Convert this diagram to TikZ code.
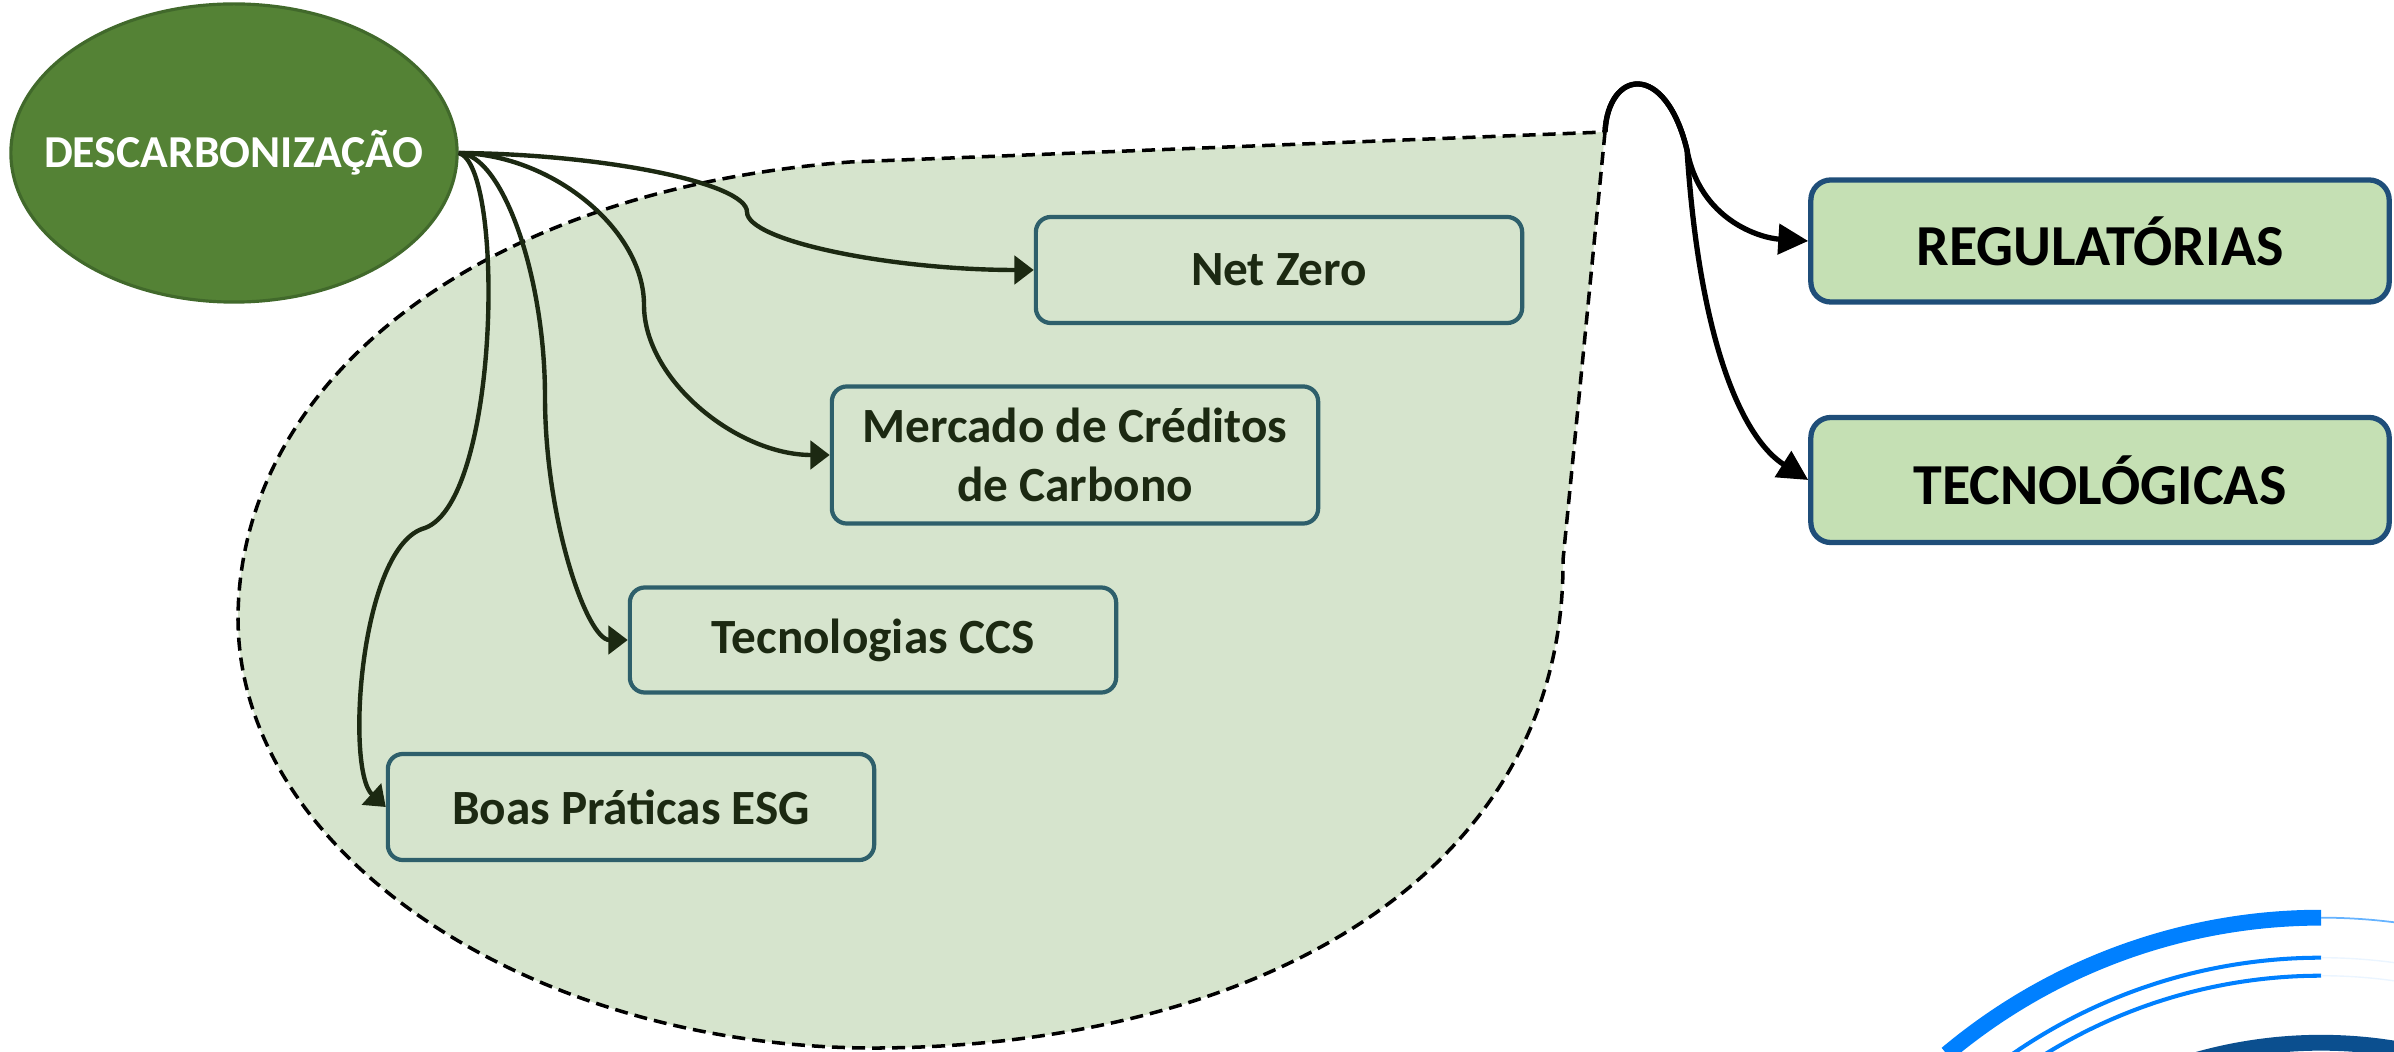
\documentclass[tikz,border=0pt]{standalone}
\usepackage{fontspec}
\setmainfont{Carlito}
\usepackage{tikz}
\usepackage{xcolor}
\usetikzlibrary{arrows.meta,shapes.geometric}

\definecolor{leafgreen}{HTML}{548235}
\definecolor{leafedge}{HTML}{41692B}
\definecolor{palegreen}{HTML}{D6E4CD}
\definecolor{tealedge}{HTML}{2E5F6B}
\definecolor{inktext}{HTML}{1C2912}
\definecolor{mintfill}{HTML}{C5E0B4}
\definecolor{navyedge}{HTML}{1F4E79}
\definecolor{ringblue}{HTML}{0080FF}
\definecolor{ringnavy}{HTML}{0B4F8F}

\begin{document}
\begin{tikzpicture}[x=0.01cm, y=0.01cm,
  topic/.style={draw=tealedge, line width=1.2pt, fill=palegreen, rounded corners=0.15cm,
    text=inktext, font=\fontsize{14}{17}\selectfont\bfseries, align=center,
    minimum width=4.86cm, minimum height=1.05cm, inner sep=0pt},
  kind/.style={draw=navyedge, line width=1.5pt, fill=mintfill, rounded corners=0.2cm,
    font=\fontsize{16.5}{20}\selectfont\bfseries,
    minimum width=5.78cm, minimum height=1.22cm, inner sep=0pt},
  link/.style={inktext, line width=1.25pt, -{Triangle[length=5.5pt,width=8pt]}},
  biglink/.style={black, line width=1.5pt, -{Triangle[length=8.5pt,width=8.5pt]}}]

  \useasboundingbox (0,0) rectangle (2394,-1052);

  % dashed region
  \draw[fill=palegreen, line width=1pt, dash pattern=on 3.7pt off 2pt]
    (1605,-132) -- (1563,-560)
    .. controls (1565,-880) and (1250,-1045) .. (880,-1048)
    .. controls (540,-1050) and (240,-860) .. (238,-620)
    .. controls (238,-380) and (480,-190) .. (850,-162) -- cycle;
  \coordinate (tip) at (1605,-132);

  % main topic
  \node[ellipse, draw=leafedge, line width=0.9pt, fill=leafgreen, text=white,
    font=\fontsize{13}{16}\selectfont\bfseries, minimum width=4.46cm,
    minimum height=2.98cm, inner ysep=0pt, inner xsep=-0.36cm] (desc) at (234,-153) {DESCARBONIZAÇÃO};

  % topics
  \node[topic, minimum height=1.06cm] (netzero) at (1279,-270) {Net Zero};
  \node[topic, minimum height=1.37cm] (mercado) at (1075,-455) {Mercado de Créditos\\de Carbono};
  \node[topic] (ccs) at (873,-640) {Tecnologias CCS};
  \node[topic, minimum height=1.06cm] (esg) at (631,-807) {Boas Práticas ESG};

  % kinds
  \node[kind] (reg) at (2100,-241) {REGULATÓRIAS};
  \node[kind, minimum height=1.25cm] (tec) at (2100,-480) {TECNOLÓGICAS};

  % links from the main topic
  \draw[link] (desc.east) .. controls (603,-154) and (747,-183) .. (747,-212)
    .. controls (747,-241) and (891,-270) .. (netzero.west);
  \draw[link] (desc.east) .. controls (551,-154) and (644,-229) .. (644,-305)
    .. controls (644,-380) and (737,-455) .. (mercado.west);
  \draw[link] (desc.east) .. controls (502,-154) and (545,-275) .. (545,-397)
    .. controls (545,-519) and (587,-640) .. (ccs.west);
  \draw[link] (desc.east) .. controls (505,-165) and (500,-500) .. (425,-528)
    .. controls (360,-545) and (345,-770) .. (esg.west);

  % links from the region
  \draw[biglink] (tip) .. controls (1608,-70) and (1665,-60) .. (1687,-150)
    .. controls (1700,-220) and (1760,-238) .. (reg.west);
  \draw[biglink] (tip) .. controls (1608,-70) and (1665,-60) .. (1687,-150)
    .. controls (1700,-350) and (1745,-440) .. (tec.west);

  % rings
  \begin{scope}
    \clip (0,0) rectangle (2394,-1052);
    \draw[ringblue, line width=4.5pt] (2321,-1500) ++(130:5.82cm)
      arc[start angle=130, end angle=90, radius=5.82cm];
    \draw[ringblue, line width=1.15pt] (2321,-1500) ++(130:5.42cm)
      arc[start angle=130, end angle=90, radius=5.42cm];
    \draw[ringblue, line width=1.15pt] (2321,-1500) ++(130:5.24cm)
      arc[start angle=130, end angle=90, radius=5.24cm];
    \draw[ringblue!60, line width=0.5pt] (2321,-1500) ++(90:5.82cm)
      arc[start angle=90, end angle=80, radius=5.82cm];
    \draw[ringblue!8, line width=0.4pt] (2321,-1500) ++(90:5.42cm)
      arc[start angle=90, end angle=80, radius=5.42cm];
    \draw[ringblue!8, line width=0.4pt] (2321,-1500) ++(90:5.24cm)
      arc[start angle=90, end angle=80, radius=5.24cm];
    \draw[ringnavy, line width=4.5pt] (2321,-1500) ++(110:4.57cm)
      arc[start angle=110, end angle=75, radius=4.57cm];
  \end{scope}

\end{tikzpicture}
\end{document}
